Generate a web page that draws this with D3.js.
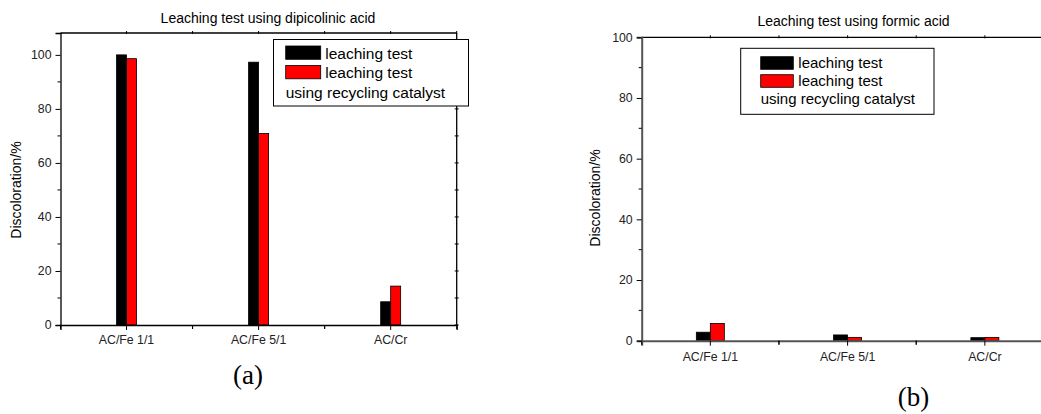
<!DOCTYPE html>
<html>
<head>
<meta charset="utf-8">
<script src="https://cdn.jsdelivr.net/npm/d3@7"></script>
<style>
  body { margin: 0; background: #fff; }
  svg { display: block; }
  text { font-family: "Liberation Sans", Arial, sans-serif; fill: #000; }
</style>
</head>
<body>
<div id="chart"></div>
<script>
// data
const categories = ['AC/Fe 1/1', 'AC/Fe 5/1', 'AC/Cr'];
const legendLabels = ['leaching test', 'leaching test', 'using recycling catalyst'];
const dipicolinicLeaching = [100, 97.3, 8.6];
const dipicolinicRecycled = [98.6, 70.9, 14.4];
const formicLeaching = [2.8, 1.9, 1.0];
const formicRecycled = [5.7, 1.1, 1.1];
const yTicks = [0, 20, 40, 60, 80, 100];
const yMinorTicks = [10, 30, 50, 70, 90];

let svg = d3.select('#chart').append('svg')
    .attr('width', 1041)
    .attr('height', 414);

let drawPanel = ({left, right, top, bottom, yMax, title, titleX, titleY, series, barW,
                  legend, yLabelX, yLabelY, tag, tagX, tagY, xPad, axisColor, axisWidth, showRight}) => {
    let x = d3.scaleBand().domain(categories).range([left, right]).padding(0);
    let y = d3.scaleLinear().domain([0, yMax]).range([bottom, top]);
    let bw = x.bandwidth();
    let g = svg.append('g');

    // frame lines
    g.append('line').attr('x1', left).attr('x2', right).attr('y1', top).attr('y2', top)
        .attr('stroke', '#000').attr('stroke-width', 1.3);
    if (showRight) {
        g.append('line').attr('x1', right).attr('x2', right).attr('y1', top).attr('y2', bottom)
            .attr('stroke', '#000').attr('stroke-width', 1.3);
        // mirrored ticks on right
        yTicks.concat(yMinorTicks).forEach(v => {
            g.append('line').attr('x1', right - 2).attr('x2', right + 2)
                .attr('y1', y(v)).attr('y2', y(v)).attr('stroke', '#000');
        });
    }
    // top minor ticks
    categories.forEach((c, i) => {
        [x(c) + bw / 2, x(c) + bw].forEach(px => {
            g.append('line').attr('x1', px).attr('x2', px).attr('y1', top - 2).attr('y2', top + 1)
                .attr('stroke', '#000');
        });
    });

    // bars
    series.forEach((s, si) => {
        g.selectAll(null).data(s.values).enter().append('rect')
            .attr('x', (d, i) => x(categories[i]) + bw / 2 + (si === 0 ? -barW : 0))
            .attr('y', d => y(d))
            .attr('width', barW)
            .attr('height', d => y(0) - y(d))
            .attr('fill', s.color)
            .attr('stroke', '#000')
            .attr('stroke-width', 0.8);
    });

    // y axis
    let yAxis = g.append('g').attr('transform', `translate(${left},0)`)
        .call(d3.axisLeft(y).tickValues(yTicks).tickSize(5).tickPadding(4));
    yAxis.select('.domain').attr('stroke', axisColor).attr('stroke-width', axisWidth);
    yAxis.selectAll('.tick line').attr('stroke', '#000');
    yAxis.selectAll('.tick text').attr('font-size', 12.3).style('fill', '#222')
        .attr('font-family', '"Liberation Sans", Arial, sans-serif');
    yMinorTicks.forEach(v => {
        g.append('line').attr('x1', left - 3).attr('x2', left).attr('y1', y(v)).attr('y2', y(v))
            .attr('stroke', '#000');
    });

    // x axis
    let xAxis = g.append('g').attr('transform', `translate(0,${bottom})`)
        .call(d3.axisBottom(x).tickSize(5).tickPadding(xPad));
    xAxis.select('.domain').attr('stroke', axisColor).attr('stroke-width', axisWidth);
    xAxis.selectAll('.tick text').attr('font-size', 12.3).style('fill', '#222')
        .attr('font-family', '"Liberation Sans", Arial, sans-serif');
    categories.forEach(c => {
        [x(c), x(c) + bw].forEach(px => {
            g.append('line').attr('x1', px).attr('x2', px).attr('y1', bottom).attr('y2', bottom + 4)
                .attr('stroke', '#000');
        });
    });

    // title
    g.append('text').attr('x', titleX).attr('y', titleY).attr('text-anchor', 'middle')
        .attr('font-size', 14).text(title);

    // y label
    g.append('text').attr('transform', `translate(${yLabelX},${yLabelY}) rotate(-90)`)
        .attr('text-anchor', 'middle').attr('font-size', 14).text('Discoloration/%');

    // legend
    g.append('rect').attr('x', legend.x).attr('y', legend.y).attr('width', legend.w).attr('height', legend.h)
        .attr('fill', '#fff').attr('stroke', '#000').attr('stroke-width', 1);
    series.forEach((s, si) => {
        g.append('rect').attr('x', legend.sx).attr('y', legend.sy + si * legend.step)
            .attr('width', legend.sw).attr('height', legend.sh)
            .attr('fill', s.color).attr('stroke', '#000').attr('stroke-width', 0.8);
    });
    legendLabels.forEach((t, i) => {
        g.append('text').attr('x', i < 2 ? legend.tx : legend.sx)
            .attr('y', legend.ty + i * legend.step)
            .attr('font-size', legend.fs).text(t);
    });

    // panel tag
    g.append('text').attr('x', tagX).attr('y', tagY).attr('text-anchor', 'middle')
        .attr('font-size', 27).style('font-family', '"Liberation Serif", "Times New Roman", serif')
        .text(tag);
};

drawPanel({
    left: 60.5, right: 456.7, top: 33, bottom: 325, yMax: 108.1,
    title: 'Leaching test using dipicolinic acid', titleX: 268, titleY: 23,
    series: [{values: dipicolinicLeaching, color: '#000'}, {values: dipicolinicRecycled, color: '#ff0000'}],
    barW: 10,
    legend: {x: 273.5, y: 39.5, w: 195, h: 66.5, sx: 285.7, sy: 46, sw: 35, sh: 13.3, step: 19.5,
             tx: 325.3, ty: 58.5, fs: 15.5},
    yLabelX: 21, yLabelY: 190, tag: '(a)', tagX: 248, tagY: 384, xPad: 5,
    axisColor: '#000', axisWidth: 1.3, showRight: true
});

drawPanel({
    left: 641.7, right: 1053.5, top: 37.3, bottom: 340.7, yMax: 100,
    title: 'Leaching test using formic acid', titleX: 853.5, titleY: 26,
    series: [{values: formicLeaching, color: '#000'}, {values: formicRecycled, color: '#ff0000'}],
    barW: 14,
    legend: {x: 740.7, y: 48.3, w: 193.3, h: 66, sx: 760.7, sy: 56.7, sw: 32.6, sh: 12.6, step: 18,
             tx: 798.3, ty: 68, fs: 15},
    yLabelX: 600, yLabelY: 198, tag: '(b)', tagX: 913.5, tagY: 406, xPad: 7,
    axisColor: '#555', axisWidth: 2, showRight: false
});
</script>
</body>
</html>
